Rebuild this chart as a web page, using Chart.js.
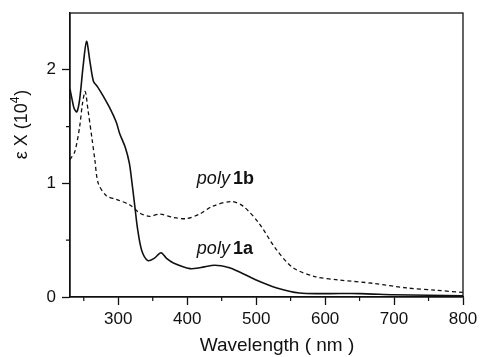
<!DOCTYPE html>
<html>
<head>
<meta charset="utf-8">
<script src="https://cdn.jsdelivr.net/npm/chart.js@4"></script>
<style>
  html, body { margin: 0; padding: 0; background: #fff; }
  #wrap { width: 480px; height: 357px; }
</style>
</head>
<body>
<div id="wrap"><canvas id="spec"></canvas></div>
<script>
// poly 1a (solid)
const wl1a  = [230, 233, 236, 240, 244, 249, 254, 259, 264, 270, 278, 288, 297, 302, 310, 316, 320, 324, 328, 334, 343, 352, 362, 370, 380, 404, 420, 440, 460, 476, 500, 530, 563, 600, 650, 700, 750, 800];
const eps1a = [1.83, 1.74, 1.66, 1.63, 1.74, 2.03, 2.25, 2.07, 1.90, 1.85, 1.77, 1.66, 1.54, 1.44, 1.32, 1.18, 1.00, 0.80, 0.60, 0.41, 0.32, 0.34, 0.39, 0.34, 0.30, 0.25, 0.26, 0.28, 0.26, 0.22, 0.15, 0.08, 0.035, 0.03, 0.03, 0.02, 0.015, 0.01];

// poly 1b (dashed)
const wl1b  = [230, 237, 244, 248, 252, 256, 262, 266, 271, 283, 297, 317, 331, 345, 360, 380, 399, 418, 437, 464, 481, 504, 529, 553, 585, 620, 670, 718, 760, 800];
const eps1b = [1.21, 1.28, 1.50, 1.70, 1.81, 1.65, 1.39, 1.21, 1.00, 0.89, 0.86, 0.81, 0.74, 0.71, 0.73, 0.70, 0.69, 0.73, 0.80, 0.84, 0.80, 0.65, 0.42, 0.26, 0.18, 0.15, 0.12, 0.08, 0.06, 0.04];

const xTicks = [300, 400, 500, 600, 700, 800];
const xMinor = [250, 350, 450, 550, 650, 750];
const yTicks = [0, 1, 2];
const yMinor = [0.5, 1.5];

const toPts = (xs, ys) => xs.map((x, i) => ({ x: x, y: ys[i] }));

const FONT = 'Arial, "Liberation Sans", sans-serif';

// frame, minor ticks, axis titles and curve labels
const extras = {
  id: 'extras',
  afterDraw(chart) {
    const { ctx, chartArea: a, scales } = chart;
    ctx.save();
    ctx.strokeStyle = '#111';
    ctx.lineWidth = 1.3;
    ctx.strokeRect(a.left, a.top, a.right - a.left, a.bottom - a.top);

    ctx.lineWidth = 1.2;
    ctx.beginPath();
    xMinor.forEach(v => {
      const px = scales.x.getPixelForValue(v);
      ctx.moveTo(px, a.bottom);
      ctx.lineTo(px, a.bottom + 4);
    });
    yMinor.forEach(v => {
      const py = scales.y.getPixelForValue(v);
      ctx.moveTo(a.left - 4, py);
      ctx.lineTo(a.left, py);
    });
    ctx.stroke();

    ctx.fillStyle = '#111';
    ctx.textBaseline = 'middle';

    // x axis title
    ctx.font = '19px ' + FONT;
    ctx.textAlign = 'center';
    ctx.fillText('Wavelength ( nm )', 277, 346);

    // y axis title, with a real superscript 4
    ctx.translate(22, 125);
    ctx.rotate(-Math.PI / 2);
    ctx.font = '18px ' + FONT;
    const main = '\u03B5 X (10';
    const wMain = ctx.measureText(main).width;
    ctx.font = '12px ' + FONT;
    const wSup = ctx.measureText('4').width;
    ctx.font = '18px ' + FONT;
    const wEnd = ctx.measureText(')').width;
    let x0 = -(wMain + wSup + wEnd) / 2;
    ctx.textAlign = 'left';
    ctx.fillText(main, x0, 0);
    ctx.font = '12px ' + FONT;
    ctx.fillText('4', x0 + wMain, -6);
    ctx.font = '18px ' + FONT;
    ctx.fillText(')', x0 + wMain + wSup + 1, 0);
    ctx.restore();

    // curve labels
    const labels = [
      { x: 414, y: 1.04, num: '1b' },
      { x: 414, y: 0.42, num: '1a' }
    ];
    ctx.save();
    ctx.fillStyle = '#111';
    ctx.textBaseline = 'middle';
    ctx.textAlign = 'left';
    labels.forEach(l => {
      const px = scales.x.getPixelForValue(l.x);
      const py = scales.y.getPixelForValue(l.y);
      ctx.font = 'italic 18px ' + FONT;
      ctx.fillText('poly', px, py);
      const w = ctx.measureText('poly').width + 3;
      ctx.font = 'bold 18px ' + FONT;
      ctx.fillText(l.num, px + w, py);
    });
    ctx.restore();
  }
};

new Chart(document.getElementById('spec'), {
  type: 'line',
  data: {
    datasets: [
      {
        label: 'poly 1a',
        data: toPts(wl1a, eps1a),
        borderColor: '#111',
        borderWidth: 1.6,
        pointRadius: 0,
        tension: 0.3,
        fill: false
      },
      {
        label: 'poly 1b',
        data: toPts(wl1b, eps1b),
        borderColor: '#111',
        borderWidth: 1.3,
        borderDash: [4, 3],
        pointRadius: 0,
        tension: 0.3,
        fill: false
      }
    ]
  },
  options: {
    responsive: true,
    maintainAspectRatio: false,
    animation: false,
    events: [],
    layout: { padding: { left: 0, right: 17, top: 13, bottom: 0 } },
    plugins: {
      legend: { display: false },
      tooltip: { enabled: false }
    },
    scales: {
      x: {
        type: 'linear',
        min: 230,
        max: 800,
        afterBuildTicks: s => { s.ticks = xTicks.map(v => ({ value: v })); },
        afterFit: s => { s.height = 60; s.paddingLeft = 0; s.paddingRight = 0; },
        grid: { drawOnChartArea: false, drawTicks: true, tickLength: 8, tickColor: '#111', tickWidth: 1.3 },
        border: { display: true, color: '#111', width: 1.3 },
        ticks: { color: '#111', padding: 4, maxRotation: 0, font: { size: 17, family: FONT } }
      },
      y: {
        type: 'linear',
        min: 0,
        max: 2.5,
        afterBuildTicks: s => { s.ticks = yTicks.map(v => ({ value: v })); },
        afterFit: s => { s.width = 70; s.paddingTop = 0; s.paddingBottom = 0; },
        grid: { drawOnChartArea: false, drawTicks: true, tickLength: 8, tickColor: '#111', tickWidth: 1.3 },
        border: { display: true, color: '#111', width: 1.3 },
        ticks: { color: '#111', padding: 6, font: { size: 17, family: FONT } }
      }
    }
  },
  plugins: [extras]
});
</script>
</body>
</html>
